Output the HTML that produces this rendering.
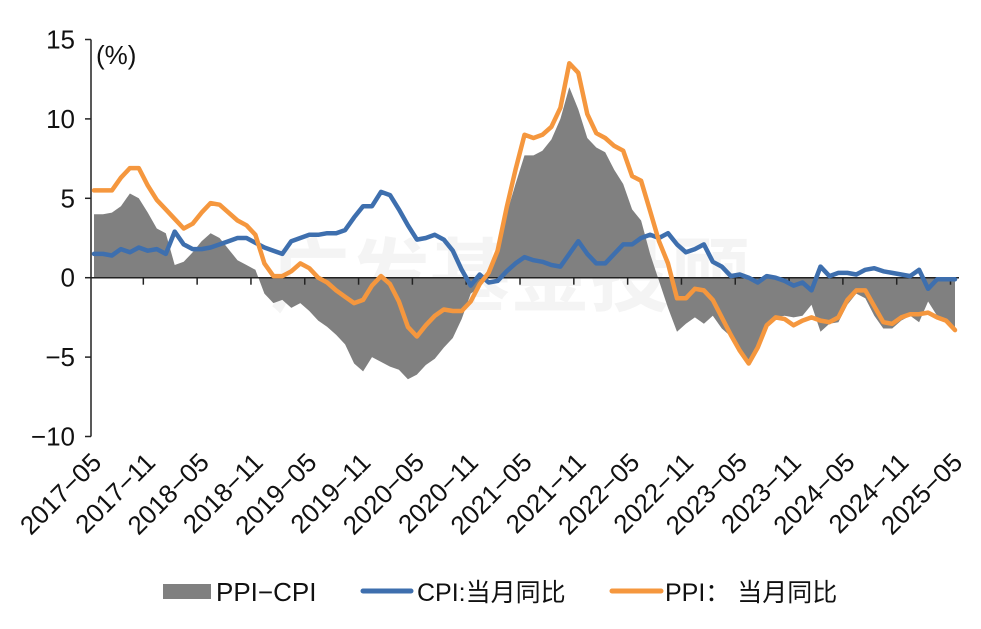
<!DOCTYPE html>
<html><head><meta charset="utf-8"><style>
html,body{margin:0;padding:0;background:#fff;}
svg{display:block;font-family:"Liberation Sans","Noto Sans CJK SC",sans-serif;}
</style></head><body>
<svg id="chart" width="981" height="629" viewBox="0 0 981 629" xmlns="http://www.w3.org/2000/svg">
<text x="510" y="305" font-size="80" font-weight="bold" fill="#f4f4f4" text-anchor="middle" font-family="Noto Sans CJK SC, sans-serif">广发基金投顾</text>
<g id="plot"></g>
<text x="96" y="64" font-size="26" fill="#111">(%)</text>
<g>
<rect x="163" y="584" width="48" height="15" fill="#808080"/>
<text x="216" y="601" font-size="26" fill="#111">PPI−CPI</text>
<line x1="363" y1="591" x2="411" y2="591" stroke="#3e6fae" stroke-width="5" stroke-linecap="round"/>
<text x="417" y="601" font-size="25" fill="#111">CPI:当月同比</text>
<line x1="612" y1="591" x2="661" y2="591" stroke="#f5973e" stroke-width="5" stroke-linecap="round"/>
<text x="665" y="601" font-size="25" fill="#111">PPI： 当月同比</text>
</g>
</svg>
<script>
const cpi=[1.5,1.5,1.4,1.8,1.6,1.9,1.7,1.8,
1.5,2.9,2.1,1.8,1.8,1.9,2.1,2.3,2.5,2.5,2.2,1.9,
1.7,1.5,2.3,2.5,2.7,2.7,2.8,2.8,3.0,3.8,4.5,4.5,
5.4,5.2,4.3,3.3,2.4,2.5,2.7,2.4,1.7,0.5,-0.5,0.2,
-0.3,-0.2,0.4,0.9,1.3,1.1,1.0,0.8,0.7,1.5,2.3,1.5,
0.9,0.9,1.5,2.1,2.1,2.5,2.7,2.5,2.8,2.1,1.6,1.8,
2.1,1.0,0.7,0.1,0.2,0.0,-0.3,0.1,0.0,-0.2,-0.5,-0.3,
-0.8,0.7,0.1,0.3,0.3,0.2,0.5,0.6,0.4,0.3,0.2,0.1,
0.5,-0.7,-0.1,-0.1,-0.1];
const ppi=[5.5,5.5,5.5,6.3,6.9,6.9,5.8,4.9,
4.3,3.7,3.1,3.4,4.1,4.7,4.6,4.1,3.6,3.3,2.7,0.9,
0.1,0.1,0.4,0.9,0.6,0.0,-0.3,-0.8,-1.2,-1.6,-1.4,-0.5,
0.1,-0.4,-1.5,-3.1,-3.7,-3.0,-2.4,-2.0,-2.1,-2.1,-1.5,-0.4,
0.3,1.7,4.4,6.8,9.0,8.8,9.0,9.5,10.7,13.5,12.9,10.3,
9.1,8.8,8.3,8.0,6.4,6.1,4.2,2.3,0.9,-1.3,-1.3,-0.7,
-0.8,-1.4,-2.5,-3.6,-4.6,-5.4,-4.4,-3.0,-2.5,-2.6,-3.0,-2.7,
-2.5,-2.7,-2.8,-2.5,-1.4,-0.8,-0.8,-1.8,-2.8,-2.9,-2.5,-2.3,
-2.3,-2.2,-2.5,-2.7,-3.3];
const yTicks=[15,10,5,0,-5,-10];
const xLabels=["2017-05","2017-11","2018-05","2018-11","2019-05","2019-11","2020-05","2020-11","2021-05","2021-11","2022-05","2022-11","2023-05","2023-11","2024-05","2024-11","2025-05"];

const NS="http://www.w3.org/2000/svg";
const g=document.getElementById('plot');
const n=ppi.length;
const x0=94,dx=(955-94)/(n-1);
function xs(i){return x0+i*dx;}
function ys(v){return 277.7-v*15.88;}
function mk(t,a){const e=document.createElementNS(NS,t);for(const k in a)e.setAttribute(k,a[k]);g.appendChild(e);return e;}
const gap=ppi.map((v,i)=>v-cpi[i]);
let d="M"+xs(0)+","+ys(0);
gap.forEach((v,i)=>{d+=" L"+xs(i).toFixed(1)+","+ys(v).toFixed(1);});
d+=" L"+xs(n-1)+","+ys(0)+" Z";
const area=mk('path',{d:d,fill:'#808080'});


const ya=mk('line',{x1:91,y1:ys(15),x2:91,y2:ys(-10),stroke:'#222','stroke-width':1.5});


yTicks.forEach(v=>{
 const tk=mk('line',{x1:85,y1:ys(v),x2:91,y2:ys(v),stroke:'#222','stroke-width':1.5});
 
 
 const t=mk('text',{x:75,y:ys(v)+9,'font-size':26,'text-anchor':'end',fill:'#111'});
 t.textContent=v<0?'−'+Math.abs(v):String(v);
 
 
});
const xa=mk('line',{x1:91,y1:ys(0),x2:xs(n-1)+4,y2:ys(0),stroke:'#222','stroke-width':1.5});


for(let k=1;k<xLabels.length;k++){
 const tx=xs(k*6-0.5);
 const tk=mk('line',{x1:tx,y1:ys(0),x2:tx,y2:ys(0)+7,stroke:'#222','stroke-width':1.5});
 
 
}
xLabels.forEach((l,k)=>{
 const ax=xs(k*6)+9,ay=464;
 const t=mk('text',{x:ax,y:ay,'font-size':26,'text-anchor':'end',fill:'#111',transform:'rotate(-45 '+ax+' '+ay+')'});
 t.textContent=l.replace('-','−');
 
 
});
function line(arr,col,name){
 const p=mk('polyline',{points:arr.map((v,i)=>xs(i).toFixed(1)+','+ys(v).toFixed(1)).join(' '),fill:'none',stroke:col,'stroke-width':4.5,'stroke-linejoin':'round','stroke-linecap':'round'});
 
 
}
line(cpi,'#3e6fae','cpi-line');
line(ppi,'#f5973e','ppi-line');
</script>
</body></html>
